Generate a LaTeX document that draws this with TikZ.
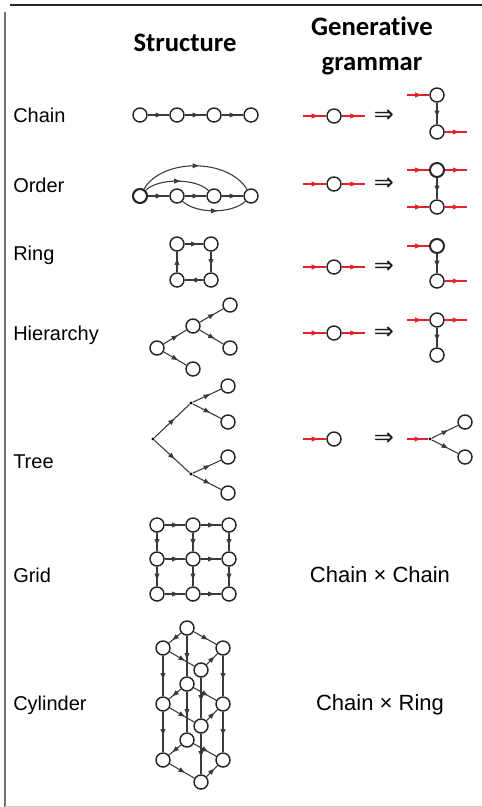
\documentclass[tikz,border=0pt]{standalone}
\usepackage{fontspec}
\setmainfont{Liberation Sans}
\newfontfamily\hdrfont[Ligatures=NoCommon]{Carlito}
\newfontfamily\symfont{DejaVu Sans}
\usetikzlibrary{arrows.meta,decorations.markings}
\definecolor{redl}{HTML}{E8202A}
\definecolor{edgec}{HTML}{3A3A3A}
\begin{document}
\begin{tikzpicture}[x=0.75pt,y=0.75pt,
  vtx/.style={circle,draw=black!85,line width=1.1pt,minimum size=10.5pt,inner sep=0pt},
  dotv/.style={circle,fill=black,minimum size=2.6pt,inner sep=0pt},
  marr/.style={postaction={decorate},decoration={markings,mark=at position #1 with {\fill (2.4pt,0pt) -- (-2.2pt,1.9pt) -- (-2.2pt,-1.9pt) -- cycle;}}},
  marr/.default=0.5,
  ed/.style={color=edgec,line width=0.8pt,marr},
  red/.style={color=redl,line width=1.2pt,marr},
  lbl/.style={anchor=west,font=\fontsize{15}{17}\selectfont,inner sep=0pt},
  hdr/.style={font=\hdrfont\bfseries\fontsize{20}{26}\selectfont,align=center,inner sep=0pt},
  rtxt/.style={font=\fontsize{16.5}{18}\selectfont,inner sep=0pt},
  impl/.style={font=\symfont\fontsize{18}{18}\selectfont,text=black!90,inner sep=0pt}
]
\fill[white] (0,0) rectangle (482,-807);
\useasboundingbox (0,0) rectangle (482,-807);
% frame
\draw[black!85,line width=0.9pt] (10,-5) -- (482,-5);
\draw[black!55,line width=0.8pt] (5,-12) -- (5,-807);
\draw[black!20,line width=0.6pt] (5,-806) -- (482,-806);

% headers
\node[hdr] (hS) at (185,-43) {Structure};
\node[hdr] (hG) at (372,-46) {Generative\\grammar};

% row labels
\node[lbl] (lc) at (13,-115) {Chain};
\node[lbl] (lo) at (13,-185) {Order};
\node[lbl] (lr) at (13,-255) {Ring};
\node[lbl] (lh) at (13,-335) {Hierarchy};
\node[lbl] (lt) at (13,-462) {Tree};
\node[lbl] (lg) at (13,-575) {Grid};
\node[lbl] (ly) at (13,-705) {Cylinder};

% ---------- Structure column ----------
% chain
\node[vtx] (c1) at (140,-115) {};
\node[vtx] (c2) at (177,-115) {};
\node[vtx] (c3) at (214,-115) {};
\node[vtx] (c4) at (251,-115) {};
\draw[ed] (c1) -- (c2);
\draw[ed] (c2) -- (c3);
\draw[ed] (c3) -- (c4);

% order
\node[vtx,line width=1.6pt] (o1) at (140,-196) {};
\node[vtx] (o2) at (177,-196) {};
\node[vtx] (o3) at (214,-196) {};
\node[vtx] (o4) at (251,-196) {};
\draw[ed] (o1) -- (o2);
\draw[ed] (o2) -- (o3);
\draw[ed] (o3) -- (o4);
\draw[ed] (o1) .. controls (162,-158) and (228,-158) .. (o4);
\draw[ed] (o1) .. controls (158,-178) and (196,-178) .. (o3);
\draw[ed] (o2) .. controls (196,-214) and (232,-214) .. (o4);

% ring
\node[vtx] (r1) at (177,-244) {};
\node[vtx] (r2) at (211,-244) {};
\node[vtx] (r3) at (211,-280) {};
\node[vtx] (r4) at (177,-280) {};
\draw[ed] (r1) -- (r2);
\draw[ed] (r2) -- (r3);
\draw[ed] (r3) -- (r4);
\draw[ed] (r4) -- (r1);

% hierarchy
\node[vtx] (h1) at (157,-348) {};
\node[vtx] (h2) at (193,-326) {};
\node[vtx] (h3) at (230,-305) {};
\node[vtx] (h4) at (230,-348) {};
\node[vtx] (h5) at (193,-369) {};
\draw[ed] (h1) -- (h2);
\draw[ed] (h2) -- (h3);
\draw[ed] (h2) -- (h4);
\draw[ed] (h1) -- (h5);

% tree
\node[dotv] (t0) at (153,-439) {};
\node[dotv] (t1) at (191,-403) {};
\node[dotv] (t2) at (191,-474) {};
\node[vtx] (tl1) at (228,-386) {};
\node[vtx] (tl2) at (228,-422) {};
\node[vtx] (tl3) at (228,-457) {};
\node[vtx] (tl4) at (228,-493) {};
\draw[ed] (t0) -- (t1);
\draw[ed] (t0) -- (t2);
\draw[ed] (t1) -- (tl1);
\draw[ed] (t1) -- (tl2);
\draw[ed] (t2) -- (tl3);
\draw[ed] (t2) -- (tl4);

% grid
\foreach \i/\x in {1/157,2/193,3/229}{
  \foreach \j/\y in {1/525,2/559,3/594}{
    \node[vtx] (g\i\j) at (\x,-\y) {};
  }
}
\foreach \j in {1,2,3}{
  \draw[ed] (g1\j) -- (g2\j);
  \draw[ed] (g2\j) -- (g3\j);
  \draw[ed] (g\j1) -- (g\j2);
  \draw[ed] (g\j2) -- (g\j3);
}

% cylinder
\foreach \k/\dy in {1/0,2/56,3/112}{
  \node[vtx] (yA\k) at (187,{-628-\dy}) {};
  \node[vtx] (yB\k) at (163,{-648-\dy}) {};
  \node[vtx] (yC\k) at (223,{-648-\dy}) {};
  \node[vtx] (yD\k) at (201,{-670-\dy}) {};
}
\foreach \k in {1,2,3}{
  \draw[ed] (yA\k) -- (yB\k);
  \draw[ed] (yA\k) -- (yC\k);
  \draw[ed] (yB\k) -- (yD\k);
  \draw[ed] (yD\k) -- (yC\k);
}
\foreach \k/\n in {1/2,2/3}{
  \draw[ed] (yA\k) -- (yA\n);
  \draw[ed] (yB\k) -- (yB\n);
  \draw[ed] (yC\k) -- (yC\n);
  \draw[ed] (yD\k) -- (yD\n);
}

% ---------- Grammar column ----------
% chain
\node[vtx] (gc) at (334,-116) {};
\coordinate (gci) at (303,-116);
\coordinate (gco) at (365,-116);
\draw[red] (gci) -- (gc);
\draw[red] (gc) -- (gco);
\node[impl] (ic) at (384,-116) {⇒};
\node[vtx] (gcA) at (437,-95) {};
\node[vtx] (gcB) at (437,-132) {};
\coordinate (gcAi) at (407,-95);
\coordinate (gcBo) at (467,-132);
\draw[red] (gcAi) -- (gcA);
\draw[ed] (gcA) -- (gcB);
\draw[red] (gcB) -- (gcBo);

% order
\node[vtx] (go) at (334,-184) {};
\coordinate (goi) at (303,-184);
\coordinate (goo) at (365,-184);
\draw[red] (goi) -- (go);
\draw[red] (go) -- (goo);
\node[impl] (io) at (384,-184) {⇒};
\node[vtx,line width=1.5pt] (goA) at (437,-170) {};
\node[vtx] (goB) at (437,-207) {};
\coordinate (goAi) at (407,-170);
\coordinate (goAo) at (467,-170);
\coordinate (goBi) at (407,-207);
\coordinate (goBo) at (467,-207);
\draw[red] (goAi) -- (goA);
\draw[red] (goA) -- (goAo);
\draw[ed] (goA) -- (goB);
\draw[red] (goBi) -- (goB);
\draw[red] (goB) -- (goBo);

% ring
\node[vtx] (gr) at (334,-267) {};
\coordinate (gri) at (303,-267);
\coordinate (gro) at (365,-267);
\draw[red] (gri) -- (gr);
\draw[red] (gr) -- (gro);
\node[impl] (ir) at (384,-267) {⇒};
\node[vtx,line width=1.5pt] (grA) at (437,-246) {};
\node[vtx] (grB) at (437,-281) {};
\coordinate (grAi) at (407,-246);
\coordinate (grBo) at (467,-281);
\draw[red] (grAi) -- (grA);
\draw[ed] (grA) -- (grB);
\draw[red] (grB) -- (grBo);

% hierarchy
\node[vtx] (gh) at (334,-333) {};
\coordinate (ghi) at (303,-333);
\coordinate (gho) at (365,-333);
\draw[red] (ghi) -- (gh);
\draw[red] (gh) -- (gho);
\node[impl] (ih) at (384,-333) {⇒};
\node[vtx] (ghA) at (437,-320) {};
\node[vtx] (ghB) at (437,-355) {};
\coordinate (ghAi) at (407,-320);
\coordinate (ghAo) at (467,-320);
\draw[red] (ghAi) -- (ghA);
\draw[red] (ghA) -- (ghAo);
\draw[ed] (ghA) -- (ghB);

% tree
\node[vtx] (gt) at (334,-439) {};
\coordinate (gti) at (303,-439);
\draw[red] (gti) -- (gt);
\node[impl] (it) at (384,-439) {⇒};
\node[dotv] (gtd) at (430,-439) {};
\coordinate (gtdi) at (407,-439);
\node[vtx] (gtA) at (465,-422) {};
\node[vtx] (gtB) at (465,-457) {};
\draw[red] (gtdi) -- (gtd);
\draw[ed] (gtd) -- (gtA);
\draw[ed] (gtd) -- (gtB);

% products
\node[rtxt] (pg) at (380,-575) {Chain × Chain};
\node[rtxt] (py) at (380,-705) {Chain × Ring};
\end{tikzpicture}
\end{document}
